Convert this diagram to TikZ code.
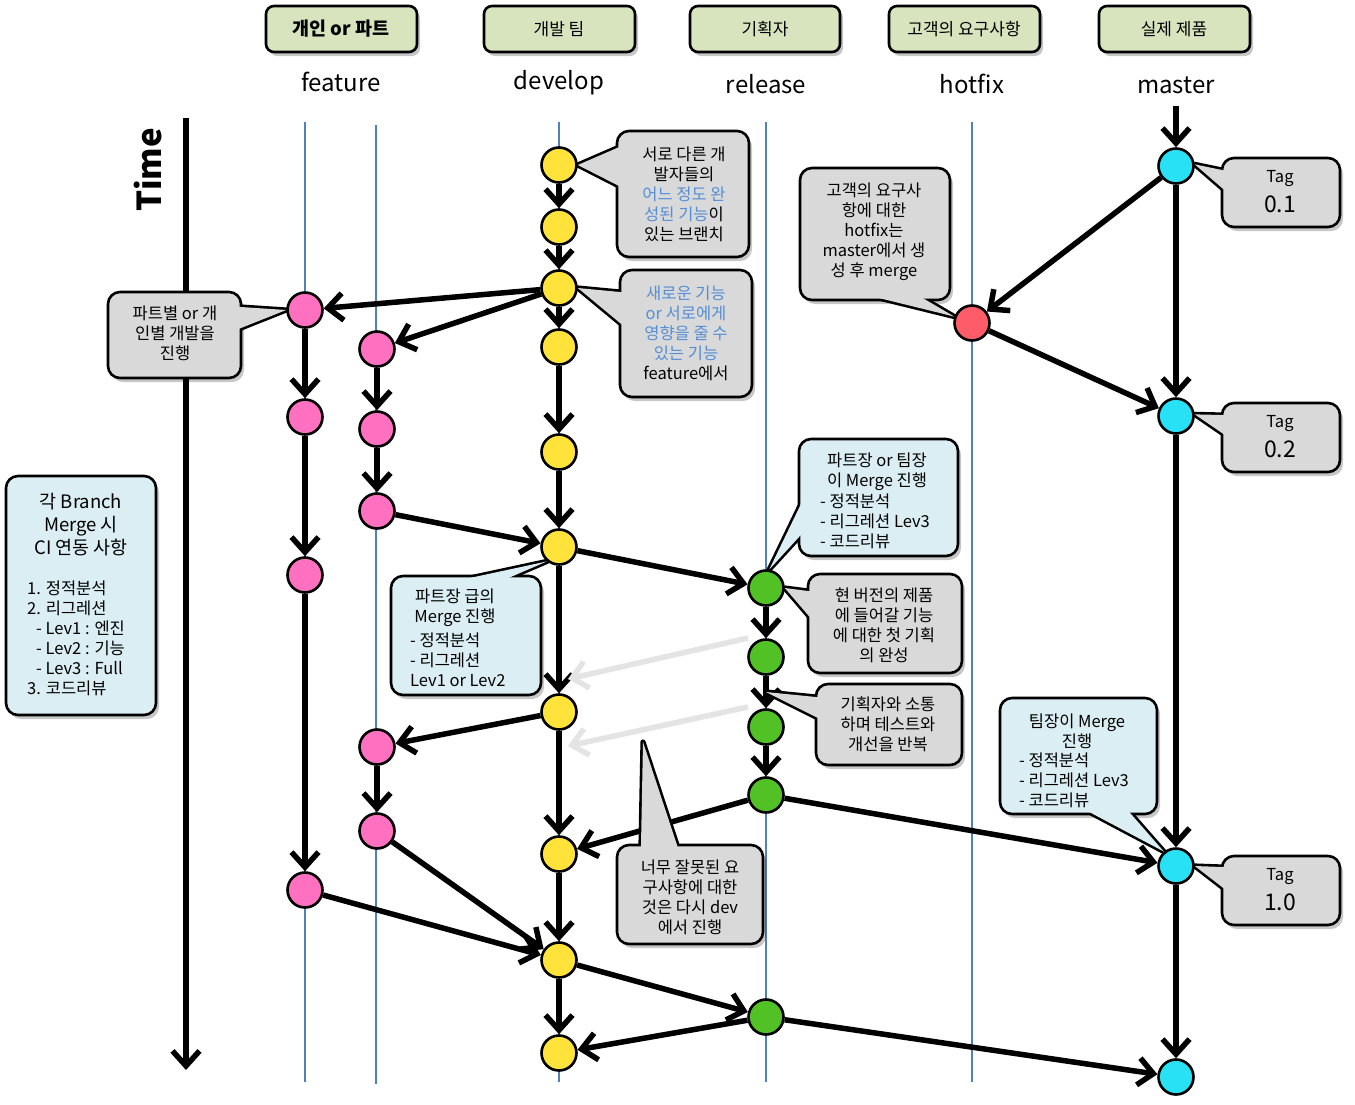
\documentclass[tikz,border=0pt]{standalone}
\usepackage{fontspec}
\setmainfont{Noto Sans CJK KR}
\usetikzlibrary{arrows.meta,calc}
\definecolor{cyel}{HTML}{FFE23A}
\definecolor{cpink}{HTML}{FF70C0}
\definecolor{cgreen}{HTML}{52C126}
\definecolor{cred}{HTML}{FF5C6A}
\definecolor{ccyan}{HTML}{28E1F5}
\definecolor{cgray}{HTML}{D9D9D9}
\definecolor{clblue}{HTML}{DAEEF3}
\definecolor{chead}{HTML}{D7E4BD}
\definecolor{cblue}{HTML}{4F81BD}
\definecolor{tblue}{HTML}{558ED5}
\definecolor{garr}{HTML}{E4E4E4}
\tikzset{
  commit/.style={circle, draw=black, line width=2.6pt, minimum size=35pt, inner sep=0pt},
  yel/.style={commit, fill=cyel},
  pnk/.style={commit, fill=cpink},
  grn/.style={commit, fill=cgreen},
  rd/.style={commit, fill=cred},
  cyn/.style={commit, fill=ccyan},
  arr/.style={line width=5.5pt, -{Straight Barb[length=15pt,width=27pt]}},
  grayarr/.style={arr, draw=garr},
  blueline/.style={draw=cblue, line width=1.3pt},
  shadowc/.style={fill=black, opacity=0.22},
  cbox/.style={draw=black, line width=2.6pt, rounded corners=12pt},
  hbox/.style={draw=black, line width=2.6pt, rounded corners=8pt, fill=chead},
  ct/.style={font=\fontsize{16.5}{20}\selectfont, align=center, inner sep=0pt},
  cl/.style={font=\fontsize{16.5}{20}\selectfont, align=left, anchor=west, inner sep=0pt},
  branchlbl/.style={font=\fontsize{24}{28}\selectfont, inner sep=0pt},
  htxt/.style={font=\fontsize{17}{20}\selectfont, inner sep=0pt},
  tagt/.style={font=\fontsize{16.5}{18}\selectfont, inner sep=0pt},
  tagn/.style={font=\fontsize{23}{26}\selectfont, inner sep=0pt},
}
\newcommand\cshadow[4]{\fill[shadowc, rounded corners=12pt] ({#1+3},{#2+4}) rectangle ({#3+3},{#4+4});}
\newcommand\callout[8]{%
  \cshadow{#2}{#3}{#4}{#5}
  \draw[line width=5.2pt, line join=round, fill=#1] (#8) -- ($(#6)!-10pt!(#8)$) -- ($(#7)!-10pt!(#8)$) -- cycle;
  \draw[cbox, fill=#1] (#2,#3) rectangle (#4,#5);
  \fill[#1] (#8) -- ($(#6)!-10pt!(#8)$) -- ($(#7)!-10pt!(#8)$) -- cycle;
}
\newcommand\hdr[4]{%
  \fill[shadowc, rounded corners=8pt] ({#1+3},{#2+4}) rectangle ({#3+3},{#4+4});
  \draw[hbox] (#1,#2) rectangle (#3,#4);
}
\begin{document}
\begin{tikzpicture}[x=1pt,y=-1pt]
\useasboundingbox (0,0) rectangle (1355,1104);
\fill[white] (0,0) rectangle (1355,1104);

% branch guide lines
\draw[blueline] (305,122) -- (305,1082);
\draw[blueline] (376,125) -- (376,1084);
\draw[blueline] (559,122) -- (559,1082);
\draw[blueline] (766,122) -- (766,1082);
\draw[blueline] (972,122) -- (972,1082);

% time axis
\coordinate (t0) at (186,118);
\coordinate (t1) at (186,1070);
\draw[arr] (t0) -- (t1);
\node[rotate=90, font=\fontsize{33}{36}\selectfont\bfseries, inner sep=0pt] (time) at (148,170) {Time};

% headers
\hdr{266}{6}{417}{52}
\hdr{484}{6}{635}{52}
\hdr{690}{6}{840}{52}
\hdr{889}{6}{1040}{52}
\hdr{1099}{6}{1250}{52}
\node[font=\fontsize{18.5}{20}\selectfont\bfseries, inner sep=0pt] (h1) at (341,29) {개인 or 파트};
\node[htxt] (h2) at (559,29) {개발 팀};
\node[htxt] (h3) at (765,29) {기획자};
\node[htxt] (h4) at (964,29) {고객의 요구사항};
\node[htxt] (h5) at (1174,29) {실제 제품};
\node[branchlbl] (lf) at (341,82) {feature};
\node[branchlbl] (ld) at (559,83) {develop};
\node[branchlbl] (lr) at (766,84) {release};
\node[branchlbl] (lh) at (972,84) {hotfix};
\node[branchlbl] (lm) at (1176,85) {master};

% commits
\node[yel] (Y1) at (559,165) {};
\node[yel] (Y2) at (559,227) {};
\node[yel] (Y3) at (559,288) {};
\node[yel] (Y4) at (559,347) {};
\node[yel] (Y5) at (559,452) {};
\node[yel] (Y6) at (559,547) {};
\node[yel] (Y7) at (559,712) {};
\node[yel] (Y8) at (559,854) {};
\node[yel] (Y9) at (559,960) {};
\node[yel] (Y10) at (559,1053) {};
\node[pnk] (F1a) at (305,310) {};
\node[pnk] (F1b) at (305,417) {};
\node[pnk] (F1c) at (305,575) {};
\node[pnk] (F1d) at (305,890) {};
\node[pnk] (F2a) at (377,349) {};
\node[pnk] (F2b) at (377,429) {};
\node[pnk] (F2c) at (377,511) {};
\node[pnk] (F2d) at (377,747) {};
\node[pnk] (F2e) at (377,831) {};
\node[grn] (G1) at (766,588) {};
\node[grn] (G2) at (766,657) {};
\node[grn] (G3) at (766,727) {};
\node[grn] (G4) at (766,795) {};
\node[grn] (G5) at (766,1017) {};
\node[rd] (H) at (972,323) {};
\node[cyn] (M1) at (1176,166) {};
\node[cyn] (M2) at (1176,416) {};
\node[cyn] (M3) at (1176,866) {};
\node[cyn] (M4) at (1176,1077) {};
\coordinate (mtop) at (1176,106);

% connectors
\draw[arr] (Y1) -- (Y2);
\draw[arr] (Y2) -- (Y3);
\draw[arr] (Y3) -- (Y4);
\draw[arr] (Y4) -- (Y5);
\draw[arr] (Y5) -- (Y6);
\draw[arr] (Y6) -- (Y7);
\draw[arr] (Y7) -- (Y8);
\draw[arr] (Y8) -- (Y9);
\draw[arr] (Y9) -- (Y10);
\draw[arr] (Y3) -- (F1a);
\draw[arr] (Y3) -- (F2a);
\draw[arr] (F1a) -- (F1b);
\draw[arr] (F1b) -- (F1c);
\draw[arr] (F1c) -- (F1d);
\draw[arr] (F1d) -- (Y9);
\draw[arr] (F2a) -- (F2b);
\draw[arr] (F2b) -- (F2c);
\draw[arr] (F2c) -- (Y6);
\draw[arr] (Y6) -- (G1);
\draw[arr] (G1) -- (G2);
\draw[arr] (G2) -- (G3);
\draw[arr] (G3) -- (G4);
\draw[arr] (G4) -- (Y8);
\draw[arr] (G4) -- (M3);
\draw[arr] (Y7) -- (F2d);
\draw[arr] (F2d) -- (F2e);
\draw[arr] (F2e) -- (Y9);
\draw[arr] (Y9) -- (G5);
\draw[arr] (G5) -- (Y10);
\draw[arr] (G5) -- (M4);
\draw[arr] (mtop) -- (M1);
\draw[arr] (M1) -- (M2);
\draw[arr] (M2) -- (M3);
\draw[arr] (M3) -- (M4);
\draw[arr] (M1) -- (H);
\draw[arr] (H) -- (M2);

% faded feedback arrows
\coordinate (ga1) at (748,638);
\coordinate (ga1t) at (568,679);
\coordinate (ga2) at (748,707);
\coordinate (ga2t) at (568,746);
\draw[grayarr] (ga1) -- (ga1t);
\draw[grayarr] (ga2) -- (ga2t);

% callouts
\coordinate (g23) at ($(G2)!0.5!(G3)$);
\coordinate (c12tip) at (643,742);
\callout{cgray}{617}{131}{749}{257}{617,148}{617,185}{Y1.east}
\node[ct] (c1) at (684,194) {서로 다른 개\\발자들의\\\textcolor{tblue}{어느 정도 완}\\\textcolor{tblue}{성된 기능}이\\있는 브랜치};
\callout{cgray}{620}{270}{752}{397}{620,292}{620,323}{Y3.east}
\node[ct] (c2) at (686,333) {\textcolor{tblue}{새로운 기능}\\\textcolor{tblue}{or 서로에게}\\\textcolor{tblue}{영향을 줄 수}\\\textcolor{tblue}{있는 기능}\\feature에서};
\callout{cgray}{800}{168}{950}{300}{887,300}{926,300}{H.160}
\node[ct] (c3) at (874,232) {고객의 요구사\\항에 대한\\hotfix는\\master에서 생\\성 후 merge};
\callout{cgray}{1222}{158}{1340}{227}{1222,170}{1222,188}{M1.5}
\node[tagt] (t1a) at (1280,179) {Tag};
\node[tagn] (t1b) at (1280,204) {0.1};
\callout{cgray}{1222}{403}{1340}{472}{1222,415}{1222,433}{M2.5}
\node[tagt] (t2a) at (1280,424) {Tag};
\node[tagn] (t2b) at (1280,449) {0.2};
\callout{cgray}{1222}{856}{1340}{925}{1222,867}{1222,887}{M3.east}
\node[tagt] (t3a) at (1280,877) {Tag};
\node[tagn] (t3b) at (1280,902) {1.0};
\callout{cgray}{108}{292}{241}{378}{241,307}{241,328}{F1a.west}
\node[ct] (c5) at (175,333) {파트별 or 개\\인별 개발을\\진행};
% CI box
\cshadow{6}{476}{156}{715}
\draw[cbox, fill=clblue] (6,476) rectangle (156,715);
\node[font=\fontsize{18.5}{23}\selectfont, align=center, inner sep=0pt] (ci1) at (81,525) {각 Branch\\Merge 시\\CI 연동 사항};
\node[cl] (ci2) at (27,638) {1. 정적분석\\2. 리그레션\\\hspace*{9pt}- Lev1 : 엔진\\\hspace*{9pt}- Lev2 : 기능\\\hspace*{9pt}- Lev3 : Full\\3. 코드리뷰};
\callout{clblue}{391}{576}{541}{695}{479,576}{513,576}{Y6.230}
\node[ct] (c7a) at (455,608) {파트장 급의\\Merge 진행};
\node[cl] (c7b) at (410,660) {- 정적분석\\- 리그레션\\Lev1 or Lev2};
\callout{clblue}{799}{439}{958}{556}{799,508}{799,537}{G1.80}
\node[ct] (c8a) at (877,472) {파트장 or 팀장\\이 Merge 진행};
\node[cl] (c8b) at (820,521) {- 정적분석\\- 리그레션 Lev3\\- 코드리뷰};
\callout{cgray}{808}{574}{962}{673}{808,591}{808,615}{G1.east}
\node[ct] (c9) at (884,625) {현 버전의 제품\\에 들어갈 기능\\에 대한 첫 기획\\의 완성};
\callout{cgray}{816}{684}{962}{765}{816,697}{816,717}{g23}
\node[ct] (c10) at (888,724) {기획자와 소통\\하며 테스트와\\개선을 반복};
\callout{clblue}{1000}{698}{1157}{814}{1093,814}{1131,814}{M3.130}
\node[ct] (c11a) at (1077,731) {팀장이 Merge\\진행};
\node[cl] (c11b) at (1019,780) {- 정적분석\\- 리그레션 Lev3\\- 코드리뷰};
\callout{cgray}{617}{845}{763}{944}{641,845}{677,845}{c12tip}
\node[ct] (c12) at (690,897) {너무 잘못된 요\\구사항에 대한\\것은 다시 dev\\에서 진행};
\end{tikzpicture}
\end{document}
